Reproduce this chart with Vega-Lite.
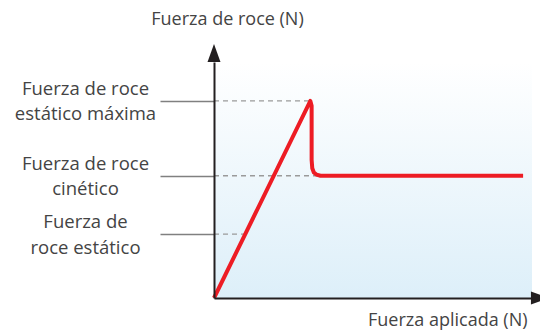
{
  "$schema": "https://vega.github.io/schema/vega-lite/v6.json",
  "width": 318,
  "height": 236,
  "autosize": {"type": "none"},
  "padding": {"left": 214, "top": 62, "right": 8, "bottom": 33},
  "config": {"view": {"stroke": null}, "font": "Open Sans"},
  "encoding": {
    "x": {
      "field": "x", "type": "quantitative",
      "scale": {"domain": [0, 10], "nice": false, "zero": false},
      "axis": {
        "grid": false, "ticks": false, "labels": false,
        "domain": true, "domainColor": "#231f20", "domainWidth": 2, "zindex": 1,
        "title": "Fuerza aplicada (N)", "titleX": 313, "titleY": 27,
        "titleAlign": "right", "titleBaseline": "alphabetic", "titleAngle": 0,
        "titleFont": "Open Sans", "titleFontSize": 18, "titleFontWeight": "normal", "titleColor": "#444444"
      }
    },
    "y": {
      "field": "y", "type": "quantitative",
      "scale": {"domain": [0, 10], "nice": false, "zero": false},
      "axis": {
        "grid": false, "values": [2.71, 5.18, 8.35],
        "domain": true, "domainColor": "#231f20", "domainWidth": 2, "zindex": 1,
        "ticks": true, "tickSize": 54, "tickColor": "#808080", "tickWidth": 1.3,
        "labelExpr": "datum.value > 8 ? ['Fuerza de roce','estático máxima'] : datum.value > 4 ? ['Fuerza de roce','cinético'] : ['Fuerza de','roce estático']",
        "labelAlign": "center", "labelBaseline": "middle", "labelPadding": 75, "labelOffset": -12.5,
        "labelFont": "Open Sans", "labelFontSize": 18.5, "labelColor": "#444444", "labelLineHeight": 25.5,
        "labelOverlap": false, "labelBound": false, "labelFlush": false,
        "title": "Fuerza de roce (N)", "titleX": 13, "titleY": -38, "titleAngle": 0,
        "titleAlign": "center", "titleBaseline": "alphabetic",
        "titleFont": "Open Sans", "titleFontSize": 18, "titleFontWeight": "normal", "titleColor": "#444444"
      }
    }
  },
  "layer": [
    {
      "data": {"values": [{"x": 0, "x2": 10, "y": 0, "y2": 10}]},
      "mark": {
        "type": "rect",
        "fill": {
          "gradient": "linear", "x1": 0, "y1": 0, "x2": 0, "y2": 1,
          "stops": [
            {"offset": 0, "color": "#ffffff"},
            {"offset": 1, "color": "#ddeff9"}
          ]
        }
      },
      "encoding": {"x2": {"field": "x2"}, "y2": {"field": "y2"}}
    },
    {
      "data": {"values": [
        {"x": 0, "x2": 3.03, "y": 8.35},
        {"x": 0, "x2": 3.74, "y": 5.18},
        {"x": 0, "x2": 0.98, "y": 2.71}
      ]},
      "mark": {"type": "rule", "color": "#9a9a9a", "strokeWidth": 1.3, "strokeDash": [5, 4]},
      "encoding": {"x2": {"field": "x2"}}
    },
    {
      "data": {"values": [
        {"i": 0, "x": 0, "y": 0},
        {"i": 1, "x": 3.03, "y": 8.35},
        {"i": 2, "x": 3.07, "y": 8.15},
        {"i": 3, "x": 3.07, "y": 5.85},
        {"i": 4, "x": 3.09, "y": 5.5},
        {"i": 5, "x": 3.14, "y": 5.32},
        {"i": 6, "x": 3.22, "y": 5.23},
        {"i": 7, "x": 3.35, "y": 5.18},
        {"i": 8, "x": 9.72, "y": 5.18}
      ]},
      "mark": {"type": "line", "color": "#ed1c24", "strokeWidth": 4, "strokeJoin": "round", "strokeCap": "butt", "clip": false},
      "encoding": {"order": {"field": "i", "type": "quantitative"}}
    },
    {
      "data": {"values": [{"x": 0, "y": 10.38}]},
      "mark": {"type": "point", "shape": "M0,-1L0.72,1L-0.72,1Z", "size": 324, "filled": true, "color": "#231f20", "opacity": 1}
    },
    {
      "data": {"values": [{"x": 10.25, "y": 0}]},
      "mark": {"type": "point", "shape": "M1,0L-1,0.72L-1,-0.72Z", "size": 324, "filled": true, "color": "#231f20", "opacity": 1}
    }
  ]
}
